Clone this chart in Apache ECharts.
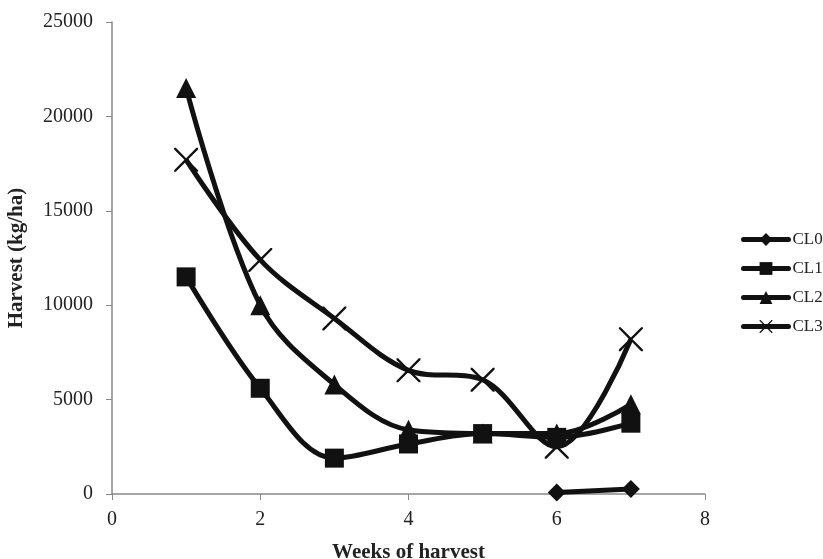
<!DOCTYPE html>
<html><head><meta charset="utf-8">
<script src="https://cdn.jsdelivr.net/npm/echarts@6/dist/echarts.min.js"></script>
<style>html,body{margin:0;padding:0;background:#fff}#c{width:823px;height:559px}</style>
</head><body><div id="c"></div>
<script>
var weeks = [1, 2, 3, 4, 5, 6, 7];
var CL0 = [null, null, null, null, null, 80, 260];
var CL1 = [11500, 5600, 1900, 2650, 3200, 3000, 3750];
var CL2 = [21500, 10000, 5800, 3400, 3200, 3200, 4750];
var CL3 = [17700, 12400, 9300, 6550, 6050, 2500, 8200];
var names = ['CL0', 'CL1', 'CL2', 'CL3'];
var xTicks = [0, 2, 4, 6, 8];
var yTicks = [0, 5000, 10000, 15000, 20000, 25000];

var crossPath = 'path://M0,0 L1.4,0 L10,8.6 L18.6,0 L20,0 L20,1.4 L11.4,10 L20,18.6 L20,20 L18.6,20 L10,11.4 L1.4,20 L0,20 L0,18.6 L8.6,10 L0,1.4 Z';
var font = '"Liberation Serif", "DejaVu Serif", serif';
function pts(arr){ return weeks.map(function(w,i){ return arr[i]==null ? null : [w, arr[i]]; }).filter(function(p){return p;}); }
var sets = [CL0, CL1, CL2, CL3];
var symbols = ['diamond', 'rect', 'triangle', crossPath];
var sizes = [18, 19, 20, 24];
var series = sets.map(function(s, i){
  return {
    name: names[i], type: 'line', data: pts(s), smooth: 0.35,
    symbol: symbols[i], symbolSize: sizes[i],
    lineStyle: {color: '#111', width: 5},
    itemStyle: {color: '#111'},
    z: 2 + (3 - i)
  };
});
var chart = echarts.init(document.getElementById('c'), null, {renderer: 'canvas'});
chart.setOption({
  animation: false,
  backgroundColor: '#fff',
  grid: {left: 112, top: 22, width: 593, height: 472, containLabel: false, outerBoundsMode: 'none'},
  legend: {
    orient: 'vertical', left: 741, top: 231, itemGap: 12, padding: 0,
    itemWidth: 45, itemHeight: 16,
    lineStyle: {width: 5, color: '#111', cap: 'round'},
    textStyle: {fontFamily: font, fontSize: 17, color: '#222', padding: [0,0,0,-1]},
    data: names
  },
  xAxis: {
    type: 'value', min: 0, max: 8, interval: 2,
    name: 'Weeks of harvest', nameLocation: 'middle', nameGap: 48,
    nameTextStyle: {fontFamily: font, fontSize: 21, fontWeight: 'bold', color: '#222'},
    axisLine: {show: true, lineStyle: {color: '#888', width: 1.5}},
    axisTick: {show: true, length: 6, lineStyle: {color: '#888'}},
    axisLabel: {fontFamily: font, fontSize: 20, color: '#222', margin: 16, formatter: function(v){return String(v);}},
    splitLine: {show: false}
  },
  yAxis: {
    type: 'value', min: 0, max: 25000, interval: 5000,
    name: 'Harvest (kg/ha)', nameLocation: 'middle', nameGap: 85, nameRotate: 90,
    nameTextStyle: {fontFamily: font, fontSize: 21, fontWeight: 'bold', color: '#222'},
    axisLine: {show: true, lineStyle: {color: '#888', width: 1.5}},
    axisTick: {show: true, length: 6, lineStyle: {color: '#888'}},
    axisLabel: {fontFamily: font, fontSize: 20, color: '#222', margin: 19, formatter: function(v){return String(v);}},
    splitLine: {show: false}
  },
  series: series
});
</script></body></html>
